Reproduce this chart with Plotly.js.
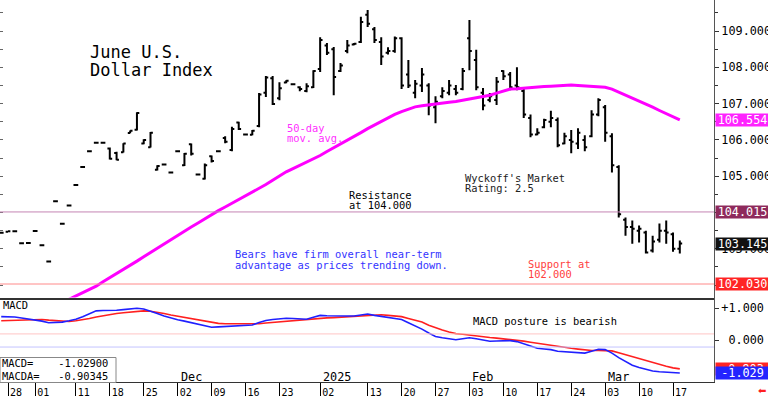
<!DOCTYPE html>
<html><head><meta charset="utf-8">
<script src="https://cdn.plot.ly/plotly-3.0.1.min.js"></script>
<style>html,body{margin:0;padding:0;background:#fff}</style>
</head><body><div id="chart" style="width:768px;height:396px"></div>
<script>
// Trading days shown on the chart (weekdays, Dec 25 and Jan 1 closed)
const tradingDays = {
  '2024-10': [25,28,29,30,31],
  '2024-11': [1,4,5,6,7,8,11,12,13,14,15,18,19,20,21,22,25,26,27,28,29],
  '2024-12': [2,3,4,5,6,9,10,11,12,13,16,17,18,19,20,23,24,26,27,30,31],
  '2025-01': [2,3,6,7,8,9,10,13,14,15,16,17,20,21,22,23,24,27,28,29,30,31],
  '2025-02': [3,4,5,6,7,10,11,12,13,14,17,18,19,20,21,24,25,26,27,28],
  '2025-03': [3,4,5,6,7,10,11,12,13,14,17,18]
};
const dates = [];
for (const [ym, ds] of Object.entries(tradingDays)) ds.forEach(d => dates.push(ym + '-' + String(d).padStart(2,'0')));

const openP = [103.44,103.47,103.48,103.15,103.16,103.49,103.10,102.65,104.31,103.69,104.19,104.76,105.25,105.69,105.92,105.92,105.76,105.64,105.66,106.19,106.28,105.90,105.80,105.18,105.32,105.10,105.69,105.30,105.88,105.05,104.93,105.55,105.69,106.05,105.72,106.48,106.15,106.14,106.38,107.30,107.70,107.15,107.58,107.53,107.45,107.35,107.45,107.95,108.60,108.50,107.90,108.45,108.63,108.70,109.45,109.05,108.70,108.40,108.45,108.80,107.80,107.30,107.50,107.50,106.90,107.20,107.30,107.40,107.40,108.80,108.20,107.30,107.10,107.10,107.90,107.80,107.50,107.35,106.60,106.15,106.35,106.50,106.55,105.90,106.00,105.90,106.00,106.10,106.70,106.90,106.10,105.25,103.80,103.60,103.50,103.45,102.95,103.25,103.50,103.40,103.00];
const highP = [103.45,103.48,103.49,103.16,103.17,103.50,103.11,102.66,104.32,103.70,104.20,104.77,105.26,105.70,105.93,105.93,105.79,105.67,105.91,106.26,106.76,106.02,106.22,105.30,105.33,105.11,105.70,105.64,105.90,105.06,105.35,105.57,105.70,106.10,106.36,106.50,106.16,106.27,107.29,107.76,107.76,107.59,107.64,107.55,107.48,107.56,107.92,108.83,108.67,108.56,108.12,108.75,108.67,109.39,109.58,109.11,108.83,108.55,108.85,108.83,108.20,107.65,107.98,107.56,107.20,107.45,107.65,107.51,107.98,109.30,108.48,107.43,107.29,107.73,107.92,107.87,108.00,107.42,106.70,106.32,106.58,106.80,106.62,106.20,106.27,106.32,106.13,106.82,107.15,106.96,106.18,105.30,103.86,103.78,103.64,103.50,103.36,103.70,103.78,103.45,103.23];
const lowP = [103.43,103.47,103.48,103.15,103.16,103.49,103.10,102.65,104.31,103.69,104.19,104.76,105.25,105.69,105.92,105.92,105.46,105.44,105.65,106.18,106.26,105.88,105.79,105.16,105.32,105.10,105.69,105.28,105.57,105.05,104.91,105.38,105.69,105.91,105.69,106.27,106.15,106.13,106.35,107.18,106.96,107.09,107.56,107.52,107.34,107.31,107.43,107.87,108.34,107.23,107.87,108.39,108.61,108.67,109.11,108.67,108.06,108.35,108.40,107.40,107.43,107.15,107.32,106.68,106.46,107.15,107.23,107.23,107.37,107.92,107.37,106.82,107.04,106.96,107.65,107.37,107.37,106.60,106.07,106.13,106.32,106.35,105.80,105.88,105.63,105.75,105.69,106.07,106.65,105.95,105.10,103.86,103.36,103.14,103.17,102.87,102.90,103.17,103.14,102.92,102.87];
const closeP = [103.44,103.48,103.48,103.15,103.16,103.49,103.10,102.65,104.31,103.69,104.19,104.76,105.25,105.69,105.92,105.92,105.48,105.45,105.90,106.25,106.74,106.00,106.20,105.28,105.32,105.10,105.69,105.62,105.62,105.05,105.30,105.42,105.69,105.95,106.30,106.30,106.15,106.25,107.25,107.72,106.99,107.42,107.63,107.53,107.40,107.48,107.90,108.75,108.40,107.73,108.05,108.60,108.65,109.25,109.20,108.75,108.30,108.45,108.80,107.50,107.50,107.55,107.80,106.95,107.05,107.35,107.50,107.30,107.90,108.45,107.45,106.95,107.20,107.60,107.75,107.45,107.45,106.70,106.15,106.20,106.55,106.60,105.85,106.10,105.95,106.20,105.80,106.70,107.10,106.20,105.30,103.95,103.60,103.55,103.55,102.90,103.20,103.50,103.45,103.00,103.145];
const ma50 = [null,null,null,null,null,null,null,null,
 101.43,101.52,101.61,101.70,101.79,101.88,101.97,102.09,102.20,102.32,102.43,102.55,102.66,102.78,102.90,103.02,103.14,103.25,103.36,103.48,103.60,103.71,103.83,103.95,104.05,104.15,104.25,104.35,104.45,104.55,104.65,104.77,104.89,105.01,105.12,105.21,105.30,105.39,105.47,105.57,105.68,105.78,105.89,106.00,106.10,106.20,106.31,106.41,106.51,106.61,106.70,106.78,106.85,106.91,106.94,106.97,106.99,107.01,107.04,107.06,107.09,107.12,107.15,107.18,107.23,107.29,107.34,107.40,107.41,107.43,107.45,107.46,107.47,107.48,107.49,107.51,107.51,107.50,107.49,107.49,107.48,107.45,107.40,107.32,107.24,107.16,107.07,106.99,106.90,106.81,106.72,106.63,106.55];
const macd = [.73,.73,.72,.69,.66,.63,.59,.54,.54,.56,.60,.65,.73,.82,.91,.92,.92,.93,.95,.97,.99,.97,.91,.83,.75,.68,.63,.59,.54,.49,.44,.40,.41,.42,.43,.44,.45,.47,.55,.61,.64,.66,.68,.67,.66,.65,.71,.77,.76,.75,.75,.75,.75,.78,.81,.77,.74,.71,.68,.64,.54,.45,.34,.22,.11,.07,.03,.01,.04,.07,.04,0,-.04,-.03,-.02,-.02,-.05,-.12,-.19,-.26,-.28,-.30,-.35,-.36,-.38,-.40,-.41,-.35,-.29,-.30,-.41,-.55,-.68,-.79,-.86,-.92,-.97,-.99,-1.00,-1.02,-1.029];
const macdAvg = [.60,.61,.62,.63,.64,.65,.64,.62,.60,.58,.58,.60,.63,.67,.72,.76,.81,.83,.85,.87,.89,.91,.90,.87,.83,.78,.74,.72,.68,.64,.60,.55,.52,.51,.51,.50,.49,.49,.51,.53,.55,.57,.59,.61,.62,.64,.66,.68,.69,.70,.71,.72,.74,.75,.76,.77,.79,.77,.75,.73,.67,.62,.56,.46,.38,.31,.25,.20,.18,.15,.13,.10,.08,.06,.04,.02,0,-.035,-.07,-.105,-.14,-.17,-.20,-.23,-.26,-.285,-.31,-.33,-.33,-.33,-.34,-.40,-.46,-.52,-.59,-.66,-.72,-.78,-.82,-.87,-.903];

const tickDates = ['2024-10-28','2024-11-01','2024-11-11','2024-11-18','2024-11-25','2024-12-02','2024-12-09','2024-12-16','2024-12-23','2025-01-02','2025-01-13','2025-01-20','2025-01-27','2025-02-03','2025-02-10','2025-02-17','2025-02-24','2025-03-03','2025-03-10','2025-03-17'];
const tickText = ['28','01','11','18','25','02','09','16','23','02','13','20','27','03','10','17','24','03','10','17'];
const monthDates = ['2024-12-02','2025-01-02','2025-02-03','2025-03-03'];
const monthText = ['Dec','2025','Feb','Mar'];

const resistance = 104.015, support = 102.030, lastClose = 103.145, lastMA = 106.554;
const lastMacd = -1.029, lastMacdAvg = -0.903;

const W = 714, H = 396;
const px = v => v / W, py = v => 1 - v / H;
const FONT = 'DejaVu Sans Mono';
const xr = [-0.18, 105.04];

const traces = [
  {type:'ohlc', x:dates, open:openP, high:highP, low:lowP, close:closeP, xaxis:'x', yaxis:'y',
   increasing:{line:{color:'#000', width:2}}, decreasing:{line:{color:'#000', width:2}}, tickwidth:0.35, hoverinfo:'skip'},
  {type:'scatter', mode:'lines', x:dates, y:ma50, xaxis:'x', yaxis:'y', line:{color:'#ff00ff', width:3}, hoverinfo:'skip'},
  {type:'scatter', mode:'lines', x:[], y:[], xaxis:'x', yaxis:'y3', hoverinfo:'skip'},
  {type:'scatter', mode:'lines', x:dates, y:macdAvg, xaxis:'x2', yaxis:'y2', line:{color:'#ff2020', width:1.6}, hoverinfo:'skip'},
  {type:'scatter', mode:'lines', x:dates, y:macd, xaxis:'x2', yaxis:'y2', line:{color:'#2020ff', width:1.6}, hoverinfo:'skip'}
];

function txt(t, x, y, opts) {
  return Object.assign({text:t, xref:'paper', yref:'paper', x:px(x), y:py(y), xanchor:'left', yanchor:'middle',
    showarrow:false, font:{family:FONT, size:10.4, color:'#000'}}, opts || {});
}
function badge(t, val, yref, color) {
  return {text:t, xref:'paper', x:px(714.5), yref:yref, y:val, xanchor:'left', yanchor:'middle', showarrow:false,
    width:53, height:12, borderpad:0, align:'center', valign:'middle', bgcolor:color,
    font:{family:FONT, size:11.8, color:'#fff'}};
}

const shapes = [
  {type:'line', xref:'paper', x0:0, x1:1, yref:'y', y0:resistance, y1:resistance, line:{color:'#c585b3', width:1}},
  {type:'line', xref:'paper', x0:0, x1:1, yref:'y', y0:support, y1:support, line:{color:'#ff8a8a', width:1}},
  {type:'line', xref:'paper', x0:0, x1:1, yref:'y2', y0:0.19, y1:0.19, line:{color:'#ffc4c4', width:1}},
  {type:'line', xref:'paper', x0:0, x1:1, yref:'y2', y0:-0.22, y1:-0.22, line:{color:'#c4c4ff', width:1}},
  {type:'rect', xref:'paper', yref:'paper', x0:px(0), x1:px(116), y0:py(382.5), y1:py(357.5), fillcolor:'#fff', line:{color:'#888', width:1}, layer:'above'}
];

const annotations = [
  txt('June U.S.', 88, 52, {font:{family:FONT, size:17, color:'#000'}}),
  txt('Dollar Index', 88, 70, {font:{family:FONT, size:17, color:'#000'}}),
  txt('50-day', 285, 128, {font:{family:FONT, size:10.4, color:'#ff30ff'}}),
  txt('mov. avg.', 285, 138, {font:{family:FONT, size:10.4, color:'#ff30ff'}}),
  txt('Resistance', 347, 195),
  txt('at 104.000', 347, 205),
  txt("Wyckoff's Market", 463, 178, {font:{family:FONT, size:10.4, color:'#222'}}),
  txt('Rating: 2.5', 463, 188, {font:{family:FONT, size:10.4, color:'#222'}}),
  txt('Bears have firm overall near-term', 233, 254, {font:{family:FONT, size:10.4, color:'#3333ff'}}),
  txt('advantage as prices trending down.', 233, 265, {font:{family:FONT, size:10.4, color:'#3333ff'}}),
  txt('Support at', 526, 264, {font:{family:FONT, size:10.4, color:'#ff4040'}}),
  txt('102.000', 526, 274, {font:{family:FONT, size:10.4, color:'#ff4040'}}),
  txt('MACD', 1, 305),
  txt('MACD posture is bearish', 471, 321),
  txt('MACD=\u00a0\u00a0\u00a0\u00a0-1.02900', 0, 363),
  txt('MACDA=\u00a0\u00a0\u00a0-0.90345', 0, 376),
  txt('\u2b05', 762, 390, {xanchor:'center', font:{family:'DejaVu Sans', size:10, color:'#ff2020'}}),
  badge(lastMA.toFixed(3), lastMA, 'y', '#ff22ff'),
  badge(resistance.toFixed(3), resistance, 'y', '#8e2a5c'),
  badge(lastClose.toFixed(3), lastClose, 'y', '#111111'),
  badge(support.toFixed(3), support, 'y', '#ff2424'),
  badge(lastMacdAvg.toFixed(3), lastMacdAvg, 'y2', '#ff2424'),
  badge(lastMacd.toFixed(3), lastMacd, 'y2', '#2424ff')
];
monthDates.forEach((d, i) => annotations.push({text:monthText[i], xref:'x2', x:d, yref:'paper', y:py(377), xanchor:'left', yanchor:'middle', xshift:1, showarrow:false, font:{family:FONT, size:11.8, color:'#000'}}));

const layout = {
  width:768, height:396, margin:{l:0, r:54, t:0, b:0},
  paper_bgcolor:'#fff', plot_bgcolor:'#fff', showlegend:false,
  font:{family:FONT, size:10.4, color:'#000'},
  xaxis:{type:'category', anchor:'y', range:xr, showticklabels:false, ticks:'', showline:true, linecolor:'#333', linewidth:2,
    showgrid:false, zeroline:false, rangeslider:{visible:false}, fixedrange:true},
  yaxis:{domain:[1-297.5/396, 1], anchor:'x', side:'right', range:[101.658, 109.854], tickmode:'linear', tick0:0, dtick:1,
    tickformat:'.3f', ticks:'outside', ticklen:4, tickcolor:'#333', showline:true, linecolor:'#555', linewidth:1,
    showgrid:false, zeroline:false, tickfont:{family:FONT, size:11.8, color:'#000'},
    minor:{dtick:0.5, ticks:'outside', ticklen:3, tickcolor:'#333'}},
  yaxis3:{overlaying:'y', side:'left', range:[101.658, 109.854], tickmode:'linear', tick0:0, dtick:0.5, ticks:'inside', ticklen:3,
    tickcolor:'#666', showticklabels:false, showline:false, showgrid:false, zeroline:false},
  xaxis2:{type:'category', anchor:'y2', range:xr, tickmode:'array', tickvals:tickDates, ticktext:tickText, ticks:'outside', ticklen:14,
    tickcolor:'#000', tickwidth:1, showline:true, linecolor:'#333', linewidth:1, showgrid:false, zeroline:false,
    ticklabelshift:8, ticklabelstandoff:-13, tickangle:0, tickfont:{family:FONT, size:10, color:'#000'}},
  yaxis2:{domain:[1-382/396, 1-298/396], anchor:'x2', side:'right', range:[-1.3125, 1.3125], tickmode:'array', tickvals:[1, 0],
    ticktext:['+1.000', '\u00a00.000'], ticks:'outside', ticklen:4, tickcolor:'#333', showline:true, linecolor:'#555', linewidth:1,
    showgrid:false, zeroline:false, tickfont:{family:FONT, size:11.8, color:'#000'}},
  shapes:shapes, annotations:annotations
};

Plotly.newPlot('chart', traces, layout, {staticPlot:true, displayModeBar:false});
</script></body></html>
